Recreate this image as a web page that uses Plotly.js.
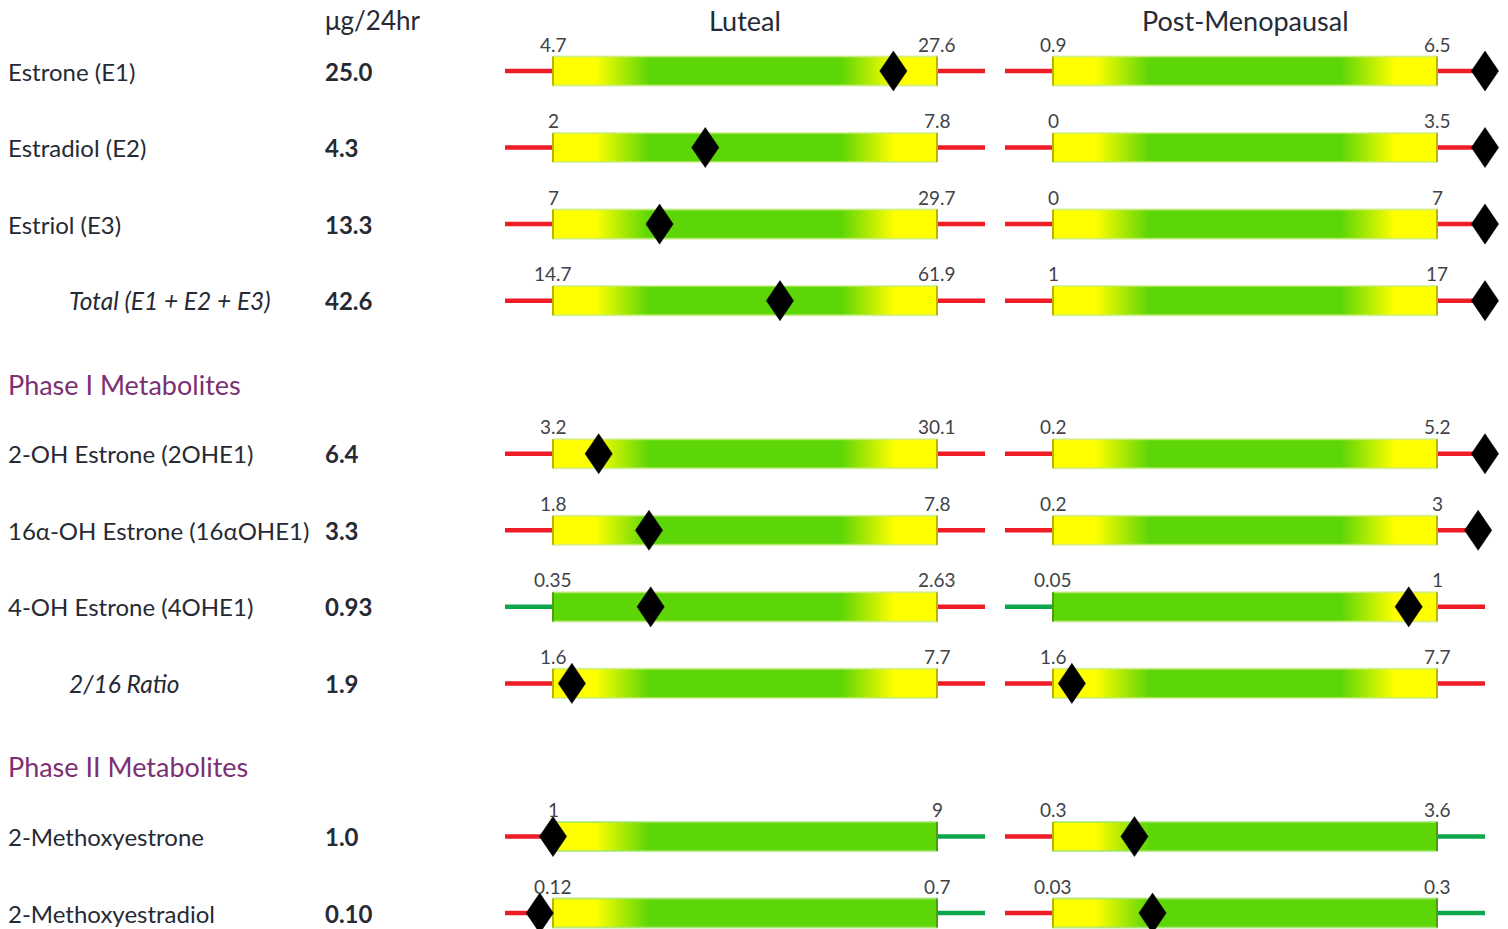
<!DOCTYPE html>
<html>
<head>
<meta charset="utf-8">
<script src="https://cdn.plot.ly/plotly-3.0.1.min.js"></script>
<style>html,body{margin:0;padding:0;background:#fff;}#chart{width:1508px;height:929px;}</style>
</head>
<body>
<div id="chart"></div>
<script>
// ---------- DATA ----------
const names = ['Estrone (E1)', 'Estradiol (E2)', 'Estriol (E3)', 'Total (E1 + E2 + E3)',
  '2-OH Estrone (2OHE1)', '16α-OH Estrone (16αOHE1)', '4-OH Estrone (4OHE1)', '2/16 Ratio',
  '2-Methoxyestrone', '2-Methoxyestradiol'];
const italicRows = [false, false, false, true, false, false, false, true, false, false];
const rowPos = [0, 1, 2, 3, 5, 6, 7, 8, 10, 11];
const values = [25.0, 4.3, 13.3, 42.6, 6.4, 3.3, 0.93, 1.9, 1.0, 0.10];
const valueLabels = ['25.0', '4.3', '13.3', '42.6', '6.4', '3.3', '0.93', '1.9', '1.0', '0.10'];
const lutealLow = [4.7, 2, 7, 14.7, 3.2, 1.8, 0.35, 1.6, 1, 0.12];
const lutealHigh = [27.6, 7.8, 29.7, 61.9, 30.1, 7.8, 2.63, 7.7, 9, 0.7];
const postLow = [0.9, 0, 0, 1, 0.2, 0.2, 0.05, 1.6, 0.3, 0.03];
const postHigh = [6.5, 3.5, 7, 17, 5.2, 3, 1, 7.7, 3.6, 0.3];
// which end of the range is desirable: 'mid' (both ends yellow), 'low' (low is good), 'high' (high is good)
const rangeKind = ['mid', 'mid', 'mid', 'mid', 'mid', 'mid', 'low', 'mid', 'high', 'high'];
const sectionLabels = ['Phase I Metabolites', 'Phase II Metabolites'];
const sectionPos = [4.09, 9.09];
const unitLabel = 'μg/24hr';
const panelTitles = ['Luteal', 'Post-Menopausal'];

// ---------- STYLE ----------
const TXT = '#262a35';
const FONT = 'Lato, "Open Sans", sans-serif';
const RED = '#ee1c25', GRN = '#0ea64b', YEL = '#ffff00', LIME = '#5dd607';
const EXT = 0.125;          // whisker length beyond range (fraction of range)
const BAR_H = 0.19;         // half height of bar in row units
const DIA_W = 0.0355, DIA_H = 0.262;

const scales = {
  mid: [[0, YEL], [0.11, YEL], [0.25, LIME], [0.75, LIME], [0.89, YEL], [1, YEL]],
  low: [[0, LIME], [0.75, LIME], [0.89, YEL], [1, YEL]],
  high: [[0, YEL], [0.11, YEL], [0.25, LIME], [1, LIME]]
};
const whiskerColors = {mid: [RED, RED], low: [GRN, RED], high: [RED, GRN]};
const edgeColors = {mid: ['#b8b400', '#b8b400'], low: ['#4f9e12', '#b8b400'], high: ['#b8b400', '#4f9e12']};

const traces = [];
const annotations = [];

function panel(lowArr, highArr, xa) {
  const diaX = [], diaY = [];
  rowPos.forEach((r, i) => {
    const kind = rangeKind[i];
    const wc = whiskerColors[kind];
    traces.push({x: [-EXT, 0], y: [r, r], xaxis: xa, yaxis: 'y', mode: 'lines',
      line: {color: wc[0], width: 4.5}, hoverinfo: 'skip', showlegend: false});
    traces.push({x: [1, 1 + EXT], y: [r, r], xaxis: xa, yaxis: 'y', mode: 'lines',
      line: {color: wc[1], width: 4.5}, hoverinfo: 'skip', showlegend: false});
    traces.push({x: [0, 1, 1, 0, 0], y: [r - BAR_H, r - BAR_H, r + BAR_H, r + BAR_H, r - BAR_H],
      xaxis: xa, yaxis: 'y', mode: 'lines', fill: 'toself',
      line: {width: 2, color: kind === 'high' ? 'rgba(160,230,110,0.75)' : 'rgba(200,235,130,0.7)'},
      fillgradient: {type: 'horizontal', colorscale: scales[kind]},
      hoverinfo: 'skip', showlegend: false});
    const ec = edgeColors[kind];
    traces.push({x: [0, 0], y: [r - BAR_H, r + BAR_H], xaxis: xa, yaxis: 'y', mode: 'lines',
      line: {color: ec[0], width: 2}, hoverinfo: 'skip', showlegend: false});
    traces.push({x: [1, 1], y: [r - BAR_H, r + BAR_H], xaxis: xa, yaxis: 'y', mode: 'lines',
      line: {color: ec[1], width: 2}, hoverinfo: 'skip', showlegend: false});
    annotations.push({xref: xa, yref: 'y', x: 0, y: r, yshift: 27, text: String(lowArr[i]),
      showarrow: false, xanchor: 'center', yanchor: 'middle', font: {family: FONT, size: 19, color: '#404348'}});
    annotations.push({xref: xa, yref: 'y', x: 1, y: r, yshift: 27, text: String(highArr[i]),
      showarrow: false, xanchor: 'center', yanchor: 'middle', font: {family: FONT, size: 19, color: '#404348'}});
    let p = (values[i] - lowArr[i]) / (highArr[i] - lowArr[i]);
    p = Math.max(-EXT, Math.min(1 + EXT, p));
    diaX.push(p, p + DIA_W, p, p - DIA_W, p, null);
    diaY.push(r - DIA_H, r, r + DIA_H, r, r - DIA_H, null);
  });
  traces.push({x: diaX, y: diaY, xaxis: xa, yaxis: 'y', mode: 'lines', fill: 'toself',
    fillcolor: '#000', line: {color: '#000', width: 0.5}, hoverinfo: 'skip', showlegend: false});
}
panel(lutealLow, lutealHigh, 'x');
panel(postLow, postHigh, 'x2');

rowPos.forEach((r, i) => {
  annotations.push({xref: 'paper', yref: 'y', x: (italicRows[i] ? 67 : 6) / 1508, y: r,
    text: italicRows[i] ? '<i>' + names[i] + '</i>' : names[i], showarrow: false,
    xanchor: 'left', yanchor: 'middle', font: {family: FONT, size: italicRows[i] ? 24.5 : 24, color: TXT}});
  annotations.push({xref: 'paper', yref: 'y', x: 323 / 1508, y: r, text: '<b>' + valueLabels[i] + '</b>',
    showarrow: false, xanchor: 'left', yanchor: 'middle', font: {family: FONT, size: 24, color: TXT}});
});
sectionLabels.forEach((s, k) => {
  annotations.push({xref: 'paper', yref: 'y', x: 6 / 1508, y: sectionPos[k], text: s, showarrow: false,
    xanchor: 'left', yanchor: 'middle', font: {family: FONT, size: 27, color: '#7d2f73'}});
});
annotations.push({xref: 'paper', yref: 'y', x: 323 / 1508, y: -0.665, text: unitLabel, showarrow: false,
  xanchor: 'left', yanchor: 'middle', font: {family: FONT, size: 26, color: TXT}});
annotations.push({xref: 'x', yref: 'y', x: 0.5, y: -0.665, text: panelTitles[0], showarrow: false,
  xanchor: 'center', yanchor: 'middle', font: {family: FONT, size: 27, color: TXT}});
annotations.push({xref: 'x2', yref: 'y', x: 0.5, y: -0.665, text: panelTitles[1], showarrow: false,
  xanchor: 'center', yanchor: 'middle', font: {family: FONT, size: 27, color: TXT}});

const hiddenAxis = {showgrid: false, zeroline: false, showticklabels: false, ticks: '', showline: false, fixedrange: true};
const layout = {
  width: 1508, height: 929,
  margin: {l: 0, r: 0, t: 0, b: 0},
  paper_bgcolor: '#fff', plot_bgcolor: '#fff',
  showlegend: false,
  xaxis: Object.assign({range: [-553 / 384, (1508 - 553) / 384], domain: [0, 1]}, hiddenAxis),
  xaxis2: Object.assign({range: [-1053 / 384, (1508 - 1053) / 384], domain: [0, 1], overlaying: 'x'}, hiddenAxis),
  yaxis: Object.assign({range: [(929 - 71) / 76.55, -71 / 76.55], domain: [0, 1]}, hiddenAxis),
  annotations: annotations
};
Plotly.newPlot('chart', traces, layout, {displayModeBar: false, staticPlot: true});
</script>
</body>
</html>
